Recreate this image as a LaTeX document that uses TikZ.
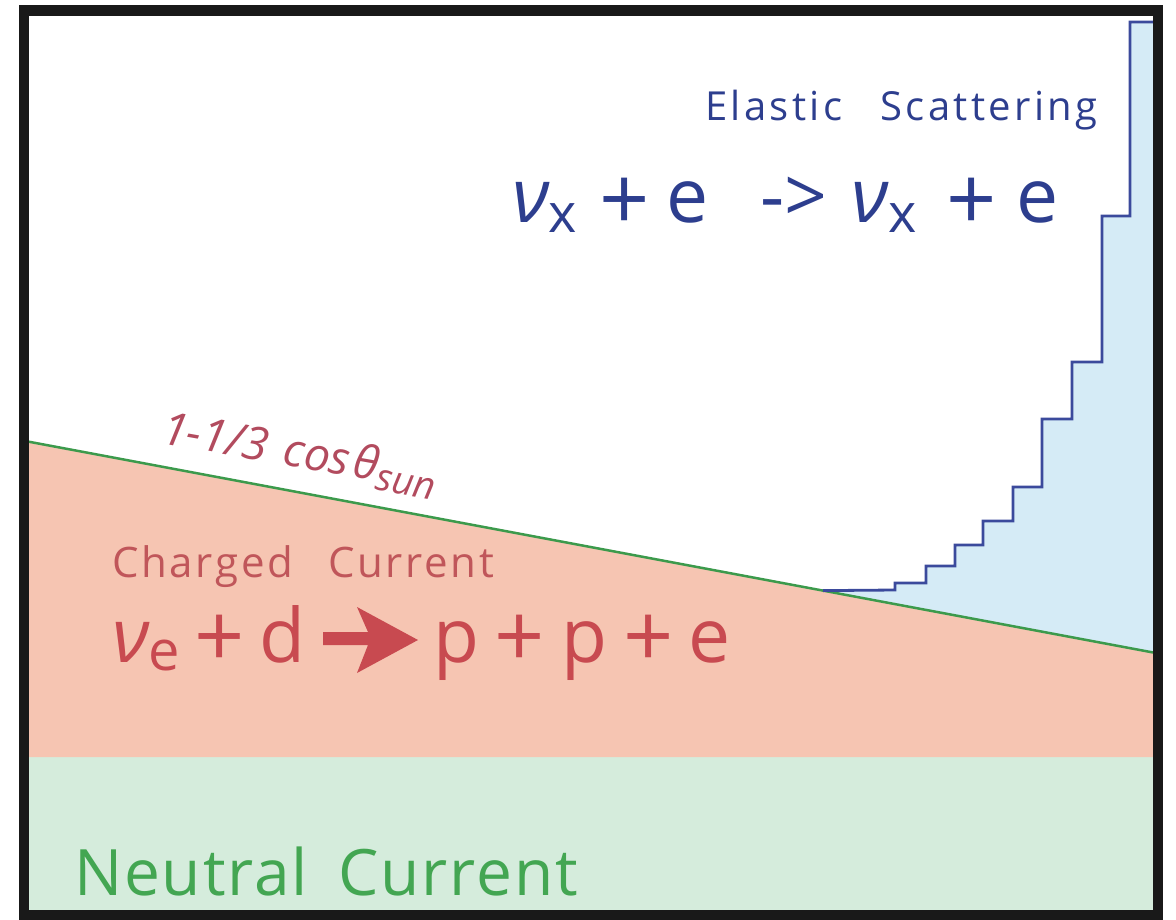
\documentclass[tikz,border=0pt]{standalone}
\usepackage{fontspec}
\setmainfont{Open Sans}
\newfontfamily\osfES[LetterSpace=8.5]{Open Sans}
\newfontfamily\osfCC[LetterSpace=6.5]{Open Sans}
\newfontfamily\osfNC[LetterSpace=3]{Open Sans}
\newcommand{\lowsub}[3]{\raisebox{-#1pt}{\fontsize{#2}{#2}\selectfont #3}}
\newcommand{\bigplus}[1]{\raisebox{-#1pt}{\fontsize{88}{88}\selectfont +}}
\newcommand{\nusym}{{\itshape ν}}
\definecolor{navytext}{HTML}{2D3E8E}
\definecolor{histline}{HTML}{3B4A9C}
\definecolor{bluefill}{HTML}{D5EBF6}
\definecolor{pinkfill}{HTML}{F6C5B2}
\definecolor{greenfill}{HTML}{D5ECDC}
\definecolor{linegreen}{HTML}{3C9A4C}
\definecolor{redeq}{HTML}{C84A50}
\definecolor{redlabel}{HTML}{C0565A}
\definecolor{coslabel}{HTML}{B24B5E}
\definecolor{ncgreen}{HTML}{43A652}
\tikzset{
  txt/.style={inner sep=0pt, outer sep=0pt, anchor=base west},
}
\begin{document}
\begin{tikzpicture}[x=1pt,y=-1pt]
\useasboundingbox (0,0) rectangle (1176,919);
% key points
\coordinate (L) at (24,440.8);
\coordinate (R) at (1158,653.4);
\coordinate (H0) at (823,590.6);
% regions
\fill[greenfill] (24,757) rectangle (1158,915);
\fill[pinkfill] (L) -- (R) -- (1158,757) -- (24,757) -- cycle;
\fill[bluefill] (H0) -- (895,590) -- (895,583) -- (926,583) -- (926,566) -- (955,566)
  -- (955,545) -- (983,545) -- (983,521) -- (1013,521) -- (1013,487) -- (1042,487)
  -- (1042,419) -- (1072,419) -- (1072,362) -- (1102,362) -- (1102,216) -- (1130,216)
  -- (1130,22) -- (1158,22) -- (R) -- cycle;
% boundary line
\draw[linegreen, line width=2.5pt] (L) -- (R);
% histogram outline
\draw[histline, line width=2.8pt, line join=miter] (H0) -- (895,590) -- (895,583) -- (926,583) -- (926,566) -- (955,566)
  -- (955,545) -- (983,545) -- (983,521) -- (1013,521) -- (1013,487) -- (1042,487)
  -- (1042,419) -- (1072,419) -- (1072,362) -- (1102,362) -- (1102,216) -- (1130,216)
  -- (1130,22) -- (1155,22);
% texts
\node[txt, text=navytext] (es) at (705,120) {\fontsize{40}{40}\selectfont\osfES Elastic\hspace{38pt}Scattering};
\node[txt, text=navytext] (eqES) at (512,222) {\fontsize{75}{75}\selectfont
  \nusym\lowsub{10}{54}{x}\hspace{22pt}\bigplus{8}\hspace{17pt}e\hspace{52pt}-\hspace{0pt}>\hspace{24pt}\nusym\lowsub{10}{54}{x}\hspace{30pt}\bigplus{8}\hspace{19pt}e};
\node[txt, text=coslabel, rotate=-10] (cos) at (160,443) {\fontsize{46}{46}\selectfont\itshape 1-1/3\hspace{17pt}cos\hspace{4pt}θ\lowsub{9}{38}{sun}};
\node[txt, text=redlabel] (cc) at (112,577) {\fontsize{42}{42}\selectfont\osfCC Charged\hspace{35pt}Current};
\node[txt, text=redeq] (eqCCa) at (112,662) {\fontsize{75}{75}\selectfont
  \nusym\lowsub{8}{56}{e}\hspace{14pt}\bigplus{5}\hspace{15pt}d};
\node[txt, text=redeq] (eqCCb) at (433,662) {\fontsize{75}{75}\selectfont
  p\hspace{16pt}\bigplus{5}\hspace{16pt}p\hspace{16pt}\bigplus{5}\hspace{15pt}e};
\fill[redeq] (323,632) -- (368,632) -- (357,607) -- (418,640) -- (357,673) -- (368,645) -- (323,645) -- cycle;
\node[txt, text=ncgreen] (nc) at (74,895) {\fontsize{64}{64}\selectfont\osfNC Neutral\hspace{30pt}Current};
% frame
\draw[black!90, line width=10.5pt] (24,10.5) rectangle (1158,915);
\end{tikzpicture}
\end{document}
